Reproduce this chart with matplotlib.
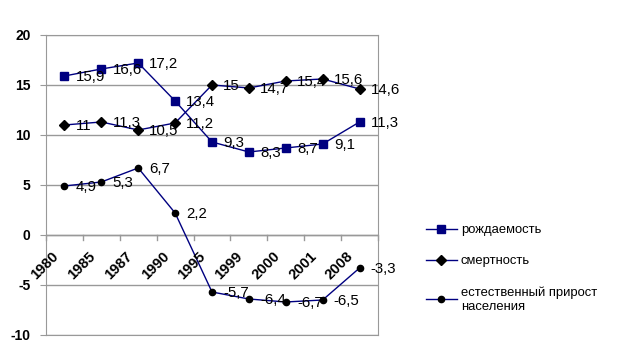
import matplotlib
matplotlib.use('Agg')
import matplotlib.pyplot as plt
import numpy as np

plt.rcParams['font.family'] = ['Liberation Sans', 'DejaVu Sans']
plt.rcParams['axes.unicode_minus'] = False

years = ['1980', '1985', '1987', '1990', '1995', '1999', '2000', '2001', '2008']
birth = [15.9, 16.6, 17.2, 13.4, 9.3, 8.3, 8.7, 9.1, 11.3]
death = [11, 11.3, 10.5, 11.2, 15, 14.7, 15.4, 15.6, 14.6]
growth = [4.9, 5.3, 6.7, 2.2, -5.7, -6.4, -6.7, -6.5, -3.3]

line_col = '#000080'

fig = plt.figure(figsize=(6.25, 3.54), dpi=100)
ax = fig.add_axes([0.0736, 0.0537, 0.5312, 0.8475])

x = np.arange(len(years))
ax.plot(x, birth, color=line_col, lw=1, marker='s', ms=5.5, mfc=line_col, mec=line_col, label='рождаемость')
ax.plot(x, death, color=line_col, lw=1, marker='D', ms=5, mfc='black', mec='black', label='смертность')
ax.plot(x, growth, color=line_col, lw=1, marker='o', ms=4.5, mfc='black', mec='black',
        label='естественный прирост\nнаселения')

for series in (birth, death, growth):
    for xi, v in zip(x, series):
        txt = ('%g' % v).replace('.', ',')
        ax.annotate(txt, (xi, v), xytext=(8, -1), textcoords='offset points',
                    ha='left', va='center', fontsize=10.8)

ax.set_xlim(-0.5, len(years) - 0.5)
ax.set_ylim(-10, 20)
ax.set_yticks(np.arange(-10, 21, 5))
ax.yaxis.grid(True, color='#999999', lw=1)
ax.set_axisbelow(True)
for s in ax.spines.values():
    s.set_color('#999999')
ax.axhline(0, color='#999999', lw=1, zorder=1)
ax.tick_params(axis='y', length=4, color='#999999', labelsize=10, pad=7)
for lab in ax.get_yticklabels():
    lab.set_fontweight('bold')

# category labels hang from the zero line, tick marks sit between categories
ax.set_xticks(x)
ax.set_xticklabels([])
ax.tick_params(axis='x', length=0)
for xi, yr in zip(x, years):
    ax.text(xi - 0.36, -1.4, yr, rotation=45, ha='right', va='top', fontsize=10.5,
            fontweight='bold', rotation_mode='anchor')
for b in np.arange(-0.5, len(years), 1):
    ax.plot([b, b], [0, -0.5], color='#999999', lw=1, clip_on=False)

leg = ax.legend(loc='upper left', bbox_to_anchor=(0.662, 0.40), bbox_transform=fig.transFigure,
                frameon=False, fontsize=9.4, handlelength=2.4, handletextpad=0.3,
                labelspacing=1.45)

fig.savefig('out.png', dpi=100)
